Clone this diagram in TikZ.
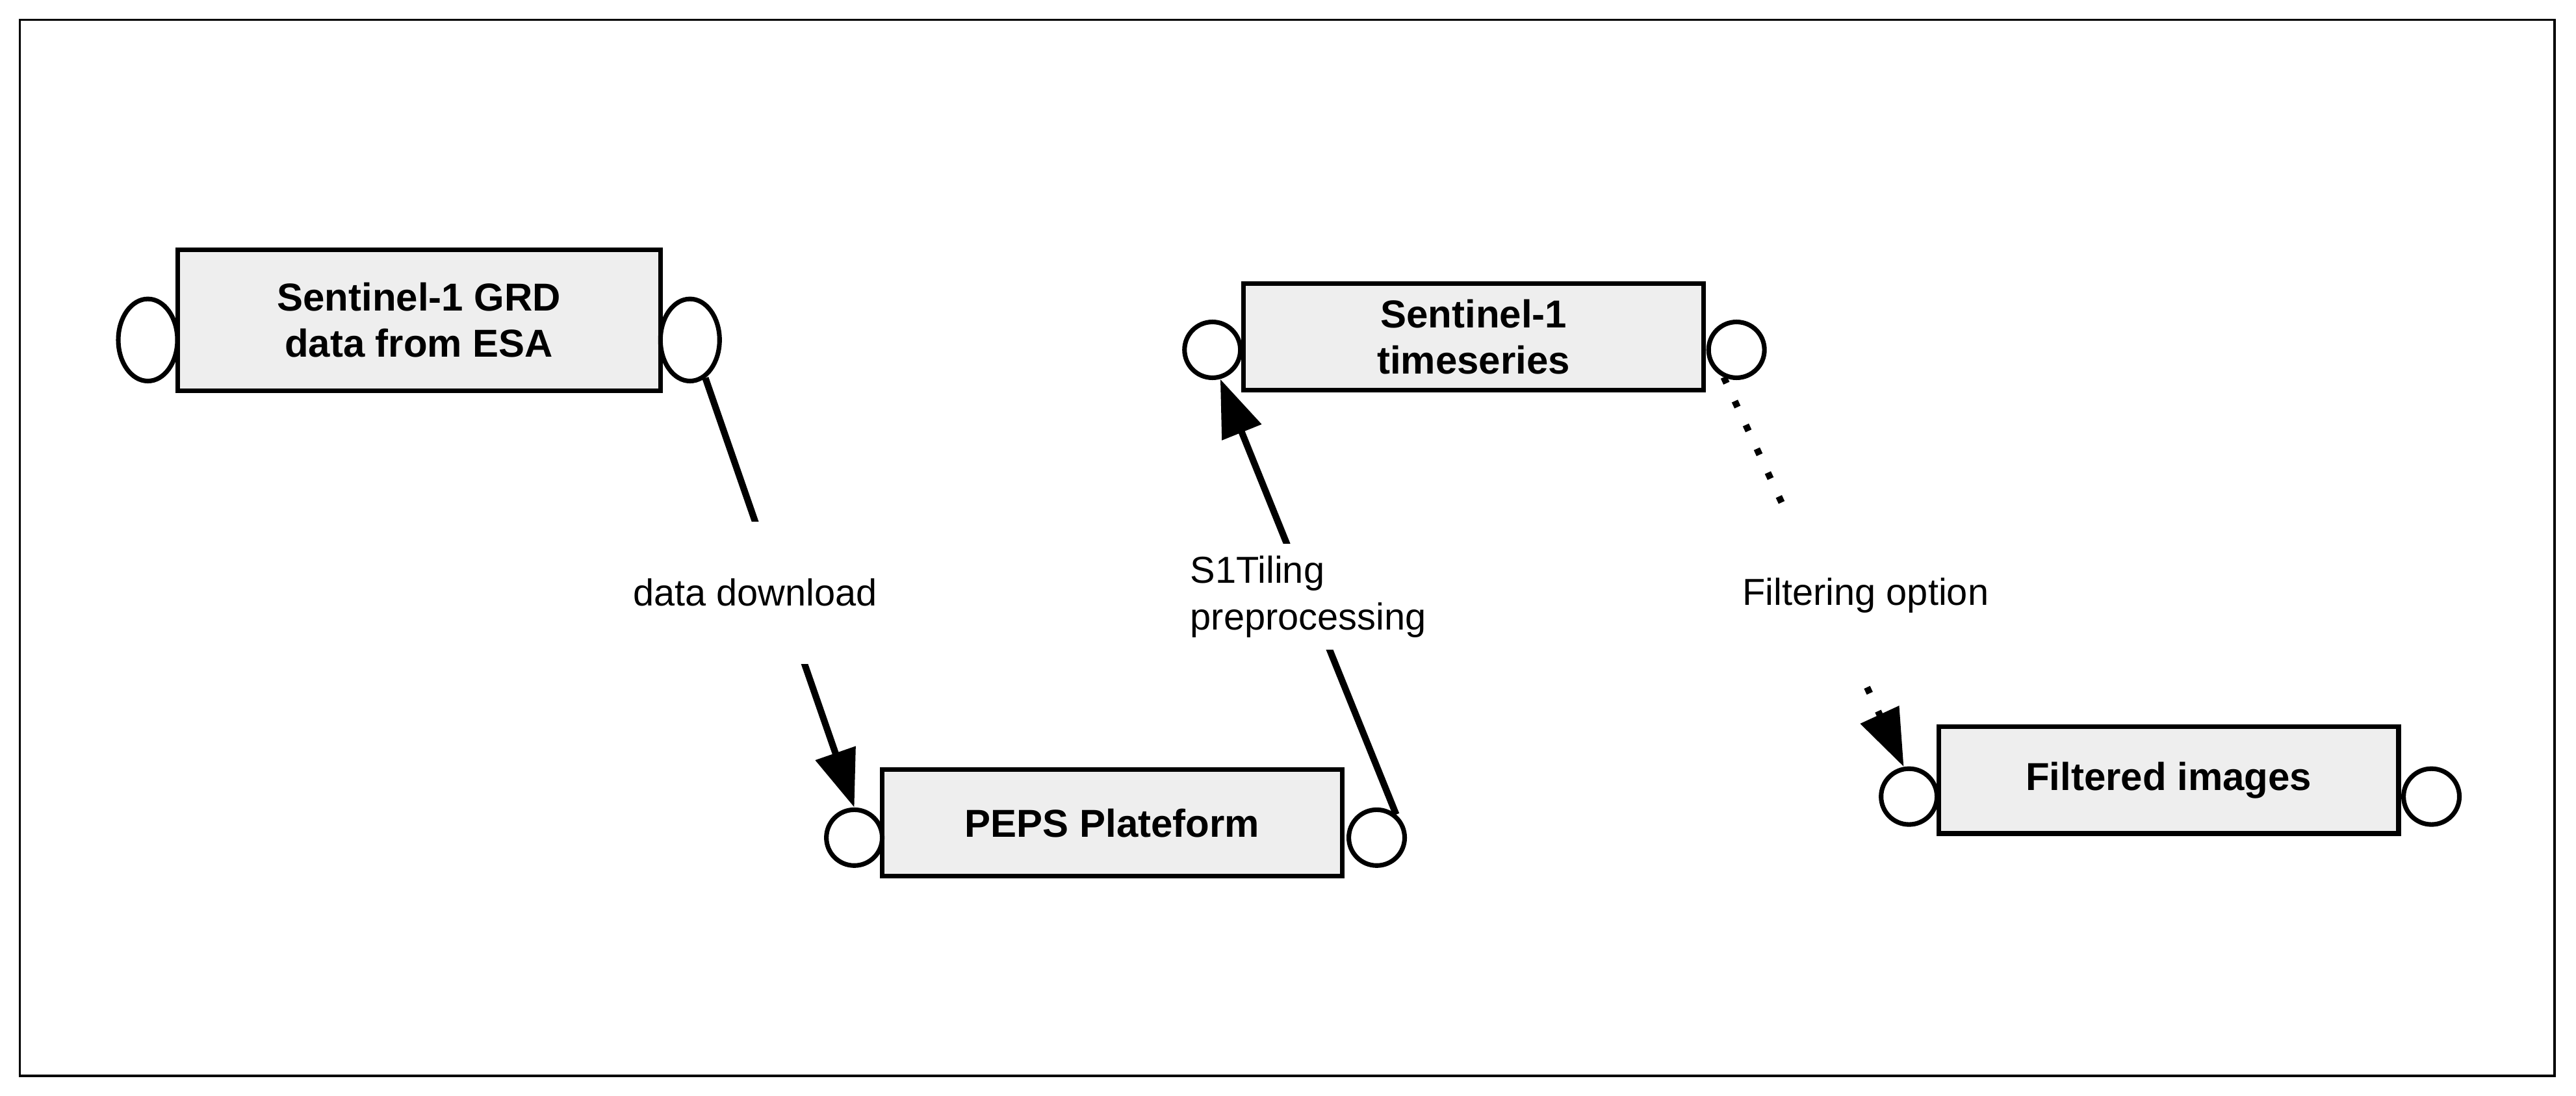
\documentclass[tikz,border=0pt]{standalone}
\usepackage{fontspec}
\setmainfont{Liberation Sans}
\usetikzlibrary{arrows.meta,shapes.geometric}
\definecolor{boxgray}{HTML}{EEEEEE}

\begin{document}
\begin{tikzpicture}[x=0.02cm,y=-0.02cm,
    font=\fontsize{13}{16}\selectfont,
    box node/.style={rectangle,draw,line width=1.6pt,fill=boxgray,minimum width=5.6cm,minimum height=1.3cm,
      align=center,font=\fontsize{13.5}{16}\selectfont\bfseries},
    port node/.style={ellipse,draw,line width=1.6pt,fill=white,inner sep=0pt,minimum width=0.68cm,minimum height=0.68cm},
    link/.style={line width=2.3pt,-{Triangle[length=7mm,width=5mm]}},
    gap/.style={fill=white,inner xsep=2pt,inner ysep=4.5mm,align=left}]

  \useasboundingbox (0,0) rectangle (1568,667);
  \draw[line width=0.8pt] (12,12) rectangle (1555,655);

  % the four data boxes
  \node[box node,minimum width=5.88cm,minimum height=1.72cm] (grd) at (255,195) {Sentinel-1 GRD\\data from ESA};
  \node[port node,minimum width=0.72cm,minimum height=1cm] (grdl) at (90,207) {};
  \node[port node,minimum width=0.72cm,minimum height=1cm] (grdr) at (420,207) {};

  \node[box node] (peps) at (677,501) {PEPS Plateform};
  \node[port node] (pepsl) at (520,510) {};
  \node[port node] (pepsr) at (838,510) {};

  \node[box node,minimum height=1.3cm] (ts) at (897,205) {Sentinel-1\\timeseries};
  \node[port node] (tsl) at (738,213) {};
  \node[port node] (tsr) at (1057,213) {};

  \node[box node] (filt) at (1320,475) {Filtered images};
  \node[port node] (filtl) at (1162,485) {};
  \node[port node] (filtr) at (1480,485) {};

  % connectors
  \draw[link] (grdr.-68) -- node[gap,pos=0.5,xshift=-3mm,inner ysep=7mm] {data download} (pepsl.north);
  \draw[link] (pepsr.50) -- node[gap,pos=0.5,inner ysep=1.5mm] {S1Tiling\\preprocessing} (tsl.-75);
  \draw[link,dash pattern=on 0.8mm off 2.4mm] (tsr.-115) -- node[gap,pos=0.56,xshift=5mm,inner ysep=8mm] {Filtering option} (filtl.100);
\end{tikzpicture}
\end{document}
